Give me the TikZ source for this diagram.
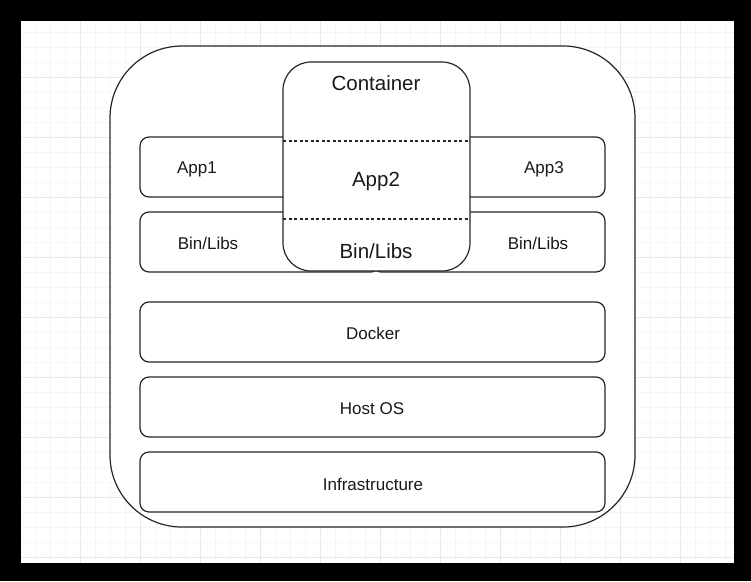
\documentclass[tikz,border=0pt]{standalone}
\usepackage{fontspec}
\setmainfont{Liberation Sans}
\begin{document}
\begin{tikzpicture}[x=1pt,y=-1pt,
  boxline/.style={draw=black!85,line width=1.2pt},
  layer/.style={boxline,rounded corners=9pt,fill=white},
  small/.style={font=\fontsize{17}{20}\selectfont,text=black!90,inner sep=0pt},
  big/.style={font=\fontsize{20.5}{24}\selectfont,text=black!90,inner sep=0pt},
  minorgrid/.style={draw=black!4,line width=0.8pt},
  majorgrid/.style={draw=black!9,line width=0.8pt}]
\useasboundingbox (0,0) rectangle (751,581);
\fill[black] (0,0) rectangle (751,581);
\fill[white] (21,21) rectangle (734,563);
% grid
\foreach \gx in {35,50,...,725} {\draw[minorgrid] (\gx,21) -- (\gx,563);}
\foreach \gy in {32,47,...,557} {\draw[minorgrid] (21,\gy) -- (734,\gy);}
\foreach \gx in {80,140,...,680} {\draw[majorgrid] (\gx,21) -- (\gx,563);}
\foreach \gy in {77,137,...,557} {\draw[majorgrid] (21,\gy) -- (734,\gy);}
% outer frame
\draw[boxline,rounded corners=72pt,fill=white] (110,46) rectangle (635,527);
% layers
\draw[layer] (140,137) rectangle (380,197);
\draw[layer] (140,212) rectangle (380,272);
\draw[layer] (372,137) rectangle (605,197);
\draw[layer] (372,212) rectangle (605,272);
\draw[layer] (140,302) rectangle (605,362);
\draw[layer] (140,377) rectangle (605,437);
\draw[layer] (140,452) rectangle (605,512);
% container
\draw[boxline,rounded corners=28pt,fill=white] (283,62) rectangle (470,271);
\coordinate (d1l) at (283,141); \coordinate (d1r) at (470,141);
\coordinate (d2l) at (283,219); \coordinate (d2r) at (470,219);
\draw[black!85,line width=1.1pt,dash pattern=on 3pt off 2.5pt] (d1l) -- (d1r);
\draw[black!85,line width=1.1pt,dash pattern=on 3pt off 2.5pt] (d2l) -- (d2r);
% labels
\node[big] (container) at (376,83.5) {Container};
\node[big] (app2) at (376,181) {App2};
\node[big] (binc) at (376,251.5) {Bin/Libs};
\node[small] (app1) at (197,169) {App1};
\node[small] (bin1) at (208,243.5) {Bin/Libs};
\node[small] (app3) at (544,169) {App3};
\node[small] (bin3) at (538,243.5) {Bin/Libs};
\node[small] (docker) at (373,333) {Docker};
\node[small] (host) at (372,408.5) {Host OS};
\node[small] (infra) at (373,484) {Infrastructure};
\end{tikzpicture}
\end{document}
